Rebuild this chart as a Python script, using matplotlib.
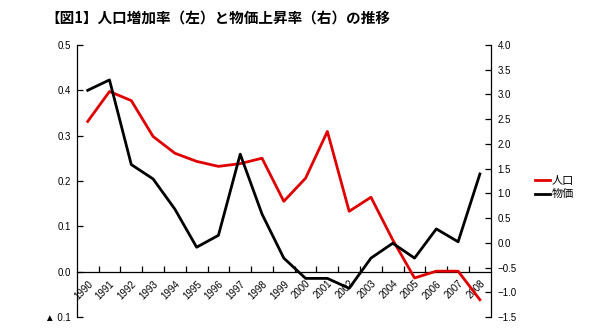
import matplotlib
matplotlib.use('Agg')
from matplotlib import pyplot as plt

plt.rcParams['font.family'] = ['Liberation Sans', 'Noto Sans CJK JP', 'DejaVu Sans']

# データ
years = [str(y) for y in range(1990, 2009)]
population = [0.331, 0.397, 0.377, 0.298, 0.261, 0.243, 0.232, 0.238, 0.250, 0.155,
              0.206, 0.309, 0.133, 0.164, 0.070, -0.014, 0.001, 0.001, -0.062]
prices = [3.08, 3.29, 1.58, 1.29, 0.68, -0.09, 0.15, 1.79, 0.58, -0.31,
          -0.72, -0.72, -0.92, -0.31, -0.01, -0.31, 0.28, 0.02, 1.39]
left_ticks = [-0.1, 0.0, 0.1, 0.2, 0.3, 0.4, 0.5]
left_labels = ['▲ 0.1', '0.0', '0.1', '0.2', '0.3', '0.4', '0.5']
right_ticks = [-1.5, -1.0, -0.5, 0.0, 0.5, 1.0, 1.5, 2.0, 2.5, 3.0, 3.5, 4.0]

fig = plt.figure(figsize=(6, 3.28), dpi=100)
ax = fig.add_axes([0.128, 0.0335, 0.69, 0.83])
ax2 = ax.twinx()

x = list(range(len(years)))
l1, = ax.plot(x, population, color='#e00000', lw=2.0, label='人口', zorder=3)
l2, = ax2.plot(x, prices, color='black', lw=2.0, label='物価', zorder=3)

ax.set_xlim(-0.5, len(years) - 0.5)
ax.set_ylim(-0.1, 0.5)
ax2.set_ylim(-1.5, 4.0)

# 軸の設定
ax.spines['top'].set_visible(False)
ax.spines['right'].set_visible(False)
ax.spines['bottom'].set_position(('data', 0))
ax2.spines['top'].set_visible(False)
ax2.spines['bottom'].set_visible(False)
ax2.spines['left'].set_visible(False)
for sp in ['left', 'bottom']:
    ax.spines[sp].set_linewidth(0.9)
ax2.spines['right'].set_linewidth(0.9)

ax.set_xticks(x)
ax.set_xticklabels(years, rotation=45, ha='right', rotation_mode='anchor', fontsize=7)
ax.set_xticks([i + 0.5 for i in x[:-1]], minor=True)
ax.tick_params(axis='x', which='major', length=0, pad=5)
ax.tick_params(axis='x', which='minor', direction='in', length=4, width=0.9)

ax.set_yticks(left_ticks)
ax.set_yticklabels(left_labels, fontsize=7)
ax.tick_params(axis='y', direction='in', length=4, width=0.9, pad=4)

ax2.set_yticks(right_ticks)
ax2.set_yticklabels([f'{v:.1f}'.replace('-', '\u2212') for v in right_ticks], fontsize=7)
ax2.tick_params(axis='y', direction='in', length=4, width=0.9, pad=5)

ax2.legend(handles=[l1, l2], loc='center left', bbox_to_anchor=(1.095, 0.475),
           frameon=False, fontsize=8, handlelength=1.4, handletextpad=0.15,
           labelspacing=0.3, borderaxespad=0)

fig.text(0.075, 0.945, '【図1】人口増加率（左）と物価上昇率（右）の推移',
         fontsize=10.5, fontweight='bold', va='center', ha='left',
         family=['Noto Sans CJK JP', 'DejaVu Sans'])

fig.savefig('out.png', dpi=100)
